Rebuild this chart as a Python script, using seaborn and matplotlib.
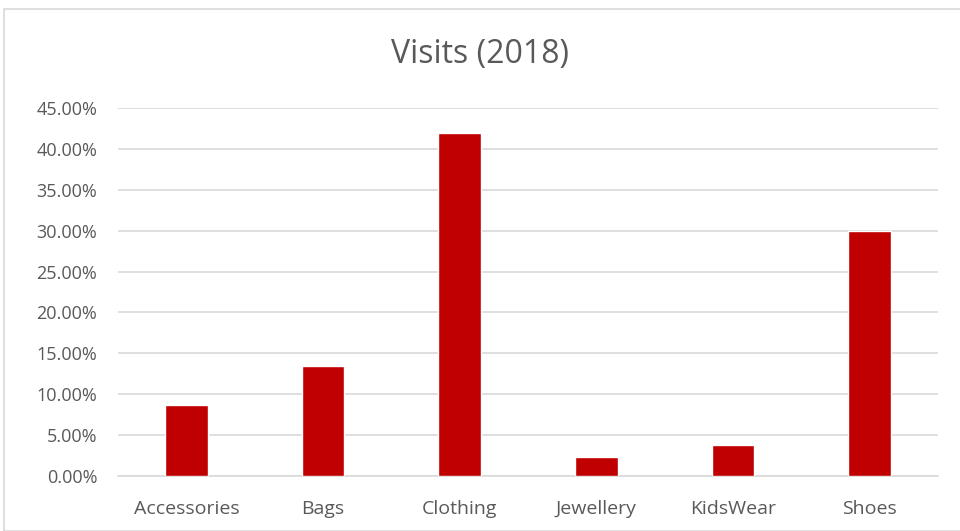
import matplotlib
matplotlib.use("Agg")
import matplotlib.pyplot as plt
import seaborn as sns
import pandas as pd
from matplotlib.ticker import FuncFormatter, MultipleLocator
from matplotlib.patches import Rectangle

categories = ["Accessories", "Bags", "Clothing", "Jewellery", "KidsWear", "Shoes"]
visits = [0.087, 0.134, 0.420, 0.0228, 0.0375, 0.300]

df = pd.DataFrame({"Category": categories, "Visits": visits})

sns.set_theme(style="white")
plt.rcParams["font.family"] = ["Open Sans", "DejaVu Sans"]

fig = plt.figure(figsize=(9.6, 5.31), dpi=100)
fig.patches.append(Rectangle((4/960, 0), 1, 1 - 9/531, transform=fig.transFigure,
                             fill=False, edgecolor="#d9d9d9", linewidth=1.2))
ax = fig.add_axes([118/960, 1 - 476/531, (938 - 118)/960, (476 - 108)/531])

sns.barplot(data=df, x="Category", y="Visits", color="#c00000", width=0.31,
            saturation=1, ax=ax, zorder=3)

ax.set_ylim(0, 0.45)
ax.yaxis.set_major_locator(MultipleLocator(0.05))
ax.yaxis.set_major_formatter(FuncFormatter(lambda v, p: f"{v*100:.2f}%"))
ax.grid(axis="y", color="#d9d9d9", linewidth=1.2, zorder=0)
ax.set_axisbelow(True)
for s in ["top", "right", "left"]:
    ax.spines[s].set_visible(False)
ax.spines["bottom"].set_color("#d9d9d9")
ax.spines["bottom"].set_linewidth(1.2)
ax.tick_params(axis="y", length=0, labelsize=13, colors="#595959", pad=15)
ax.tick_params(axis="x", length=0, labelsize=14, colors="#595959", pad=17)
ax.set_xlabel("")
ax.set_ylabel("")
fig.text(0.5, 1 - 54/531, "Visits (2018)", ha="center", va="center",
         fontsize=23, color="#595959")

fig.savefig("out.png", dpi=100, facecolor="white")
